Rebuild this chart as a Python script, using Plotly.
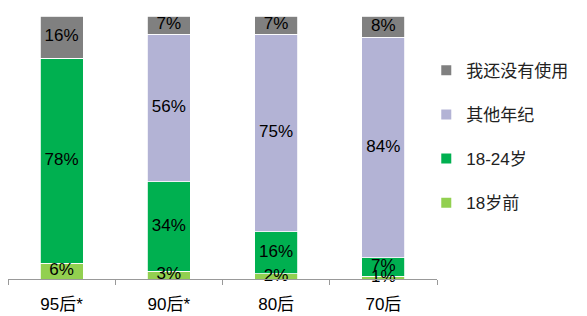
import numpy as np
import plotly.graph_objects as go

categories = ["95后*", "90后*", "80后", "70后"]
before18 = [6, 3, 2, 1]
age18_24 = [78, 34, 16, 7]
other_age = [0, 56, 75, 84]
not_yet = [16, 7, 7, 8]

series = [
    ("18岁前", before18, "#92d050"),
    ("18-24岁", age18_24, "#00b050"),
    ("其他年纪", other_age, "#b3b3d5"),
    ("我还没有使用", not_yet, "#808080"),
]

font_family = "Liberation Sans, Arial, Noto Sans CJK SC"

fig = go.Figure()
base = np.zeros(len(categories))
for i, (name, vals, color) in enumerate(series):
    v = np.array(vals, dtype=float)
    fig.add_trace(go.Bar(
        name=name,
        x=categories,
        y=vals,
        marker=dict(color=color, line=dict(color="white", width=0.8)),
        textposition="none",
        legendgroup=name,
        legendrank=10 - i,
        hoverinfo="skip",
    ))
    mids = base + v / 2
    mask = v > 0
    fig.add_trace(go.Scatter(
        x=[c for c, m in zip(categories, mask) if m],
        y=mids[mask],
        mode="text",
        text=[f"{int(x)}%" for x in v[mask]],
        textfont=dict(color="black", size=17, family=font_family),
        textposition="middle center",
        cliponaxis=False,
        showlegend=False,
        hoverinfo="skip",
    ))
    base = base + v

fig.update_layout(
    barmode="stack",
    bargap=0.6,
    width=587,
    height=316,
    margin=dict(l=8, r=150, t=16, b=37),
    paper_bgcolor="white",
    plot_bgcolor="white",
    font=dict(family=font_family, size=17, color="black"),
    showlegend=True,
    legend=dict(
        traceorder="grouped",
        x=0.975,
        xanchor="left",
        y=0.86,
        yanchor="top",
        tracegroupgap=19,
        font=dict(size=17, family=font_family, color="#222222"),
        itemsizing="constant",
    ),
    xaxis=dict(
        showline=True,
        linecolor="#999999",
        linewidth=1,
        ticks="outside",
        tickson="boundaries",
        ticklen=5,
        tickcolor="#999999",
        showgrid=False,
        automargin=False,
        ticklabelstandoff=10,
        tickfont=dict(size=17, color="black"),
    ),
    yaxis=dict(
        range=[0, 100],
        visible=False,
        showgrid=False,
        automargin=False,
    ),
)

fig.write_html("out.html")
